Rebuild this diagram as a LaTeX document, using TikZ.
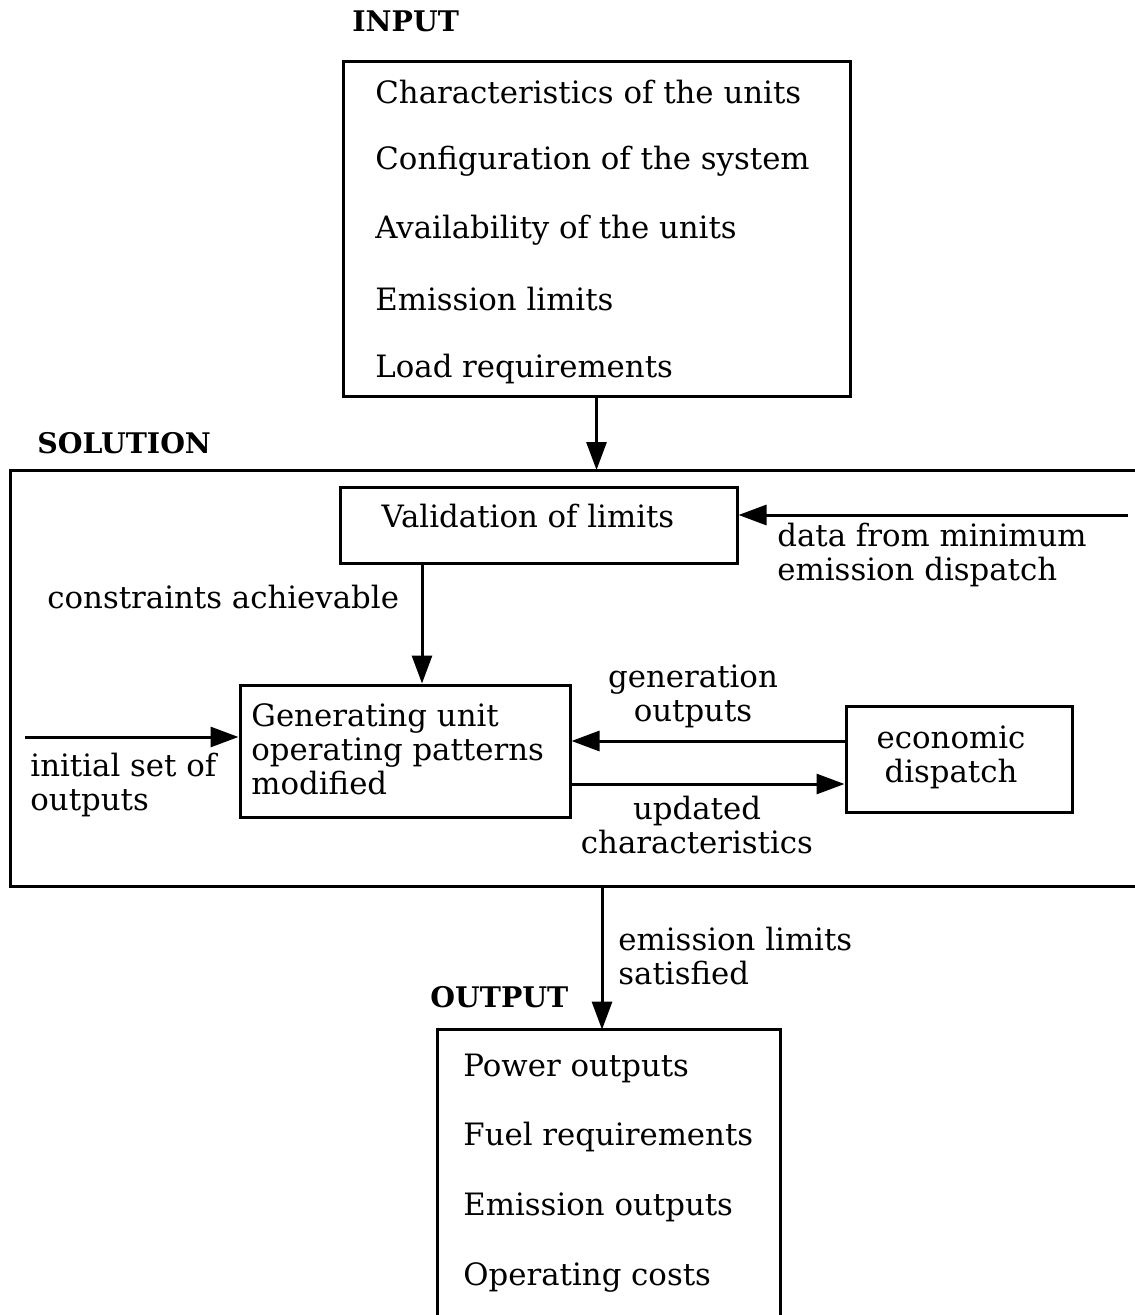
\documentclass[tikz,border=0pt]{standalone}
\usepackage{fontspec}
\setmainfont{DejaVu Serif}
\usetikzlibrary{arrows.meta}
\begin{document}
\begin{tikzpicture}[x=0.5pt,y=-0.5pt,
  every node/.style={inner sep=0pt, font=\fontsize{15.4}{17}\selectfont},
  box/.style={draw, line width=1.5pt},
  lbl/.style={anchor=west, align=left},
  clbl/.style={anchor=center, align=center},
  head/.style={anchor=west, font=\fontsize{14.2}{17}\selectfont\bfseries},
  arr/.style={line width=1.5pt, -{Triangle[length=14pt,width=10pt]}}]
\useasboundingbox (0,0) rectangle (1134,1315);

% INPUT
\node[head] (inputlbl) at (352,21) {INPUT};
\node[box, minimum width=253.5pt, minimum height=167.5pt] (input) at (596.5,229.5) {};
\node[lbl] (i1) at (375,92) {Characteristics of the units};
\node[lbl] (i2) at (375,161) {Configuration of the system};
\node[lbl] (i3) at (375,230) {Availability of the units};
\node[lbl] (i4) at (375,299) {Emission limits};
\node[lbl] (i5) at (375,369) {Load requirements};

% SOLUTION
\node[head] (sollbl) at (37,443) {SOLUTION};
\coordinate (soltop) at (10,470);
\coordinate (solbot) at (602,886);
\draw[line width=1.5pt] (1140,470) -- (soltop) -- (10,886) -- (1140,886);

\node[box, minimum width=198.5pt, minimum height=38pt] (val) at (538.5,525) {};
\node[clbl] (valt) at (528,516) {Validation of limits};

\node[box, minimum width=165pt, minimum height=66pt] (gen) at (405,751) {};
\node[lbl] (gent) at (251,749) {Generating unit\\operating patterns\\modified};

\node[box, minimum width=113pt, minimum height=53pt] (eco) at (959,759) {};
\node[clbl] (ecot) at (951,757) {economic\\dispatch};

% connectors
\draw[arr] (input.south) -- (input.south |- soltop);

\coordinate (dataend) at (1128,515);
\draw[arr] (dataend) -- (val.east |- dataend);
\node[lbl] (datat) at (777,555) {data from minimum\\emission dispatch};

\coordinate (vgx) at (422,600);
\draw[arr] (val.south -| vgx) -- (gen.north -| vgx);
\node[lbl] (cons) at (47,597) {constraints achievable};

\coordinate (initstart) at (25,737);
\draw[arr] (initstart) -- (initstart -| gen.west);
\node[lbl] (initt) at (30,785) {initial set of\\outputs};

\coordinate (genout) at (700,741);
\draw[arr] (eco.west |- genout) -- (gen.east |- genout);
\node[clbl] (genoutt) at (693,696) {generation\\outputs};

\coordinate (upd) at (700,784);
\draw[arr] (gen.east |- upd) -- (eco.west |- upd);
\node[clbl] (updt) at (697,825) {updated\\characteristics};

% OUTPUT
\node[head] (outlbl) at (430,997) {OUTPUT};
\node[minimum width=171pt, minimum height=150pt] (output) at (609,1180) {};
\draw[line width=1.5pt] (output.south west) -- (output.north west) -- (output.north east) -- (output.south east);
\draw[arr] (solbot) -- (solbot |- output.north);
\node[lbl] (emt) at (618,956) {emission limits\\satisfied};

\node[lbl] (o1) at (463,1068) {Power outputs};
\node[lbl] (o2) at (463,1137) {Fuel requirements};
\node[lbl] (o3) at (463,1207) {Emission outputs};
\node[lbl] (o4) at (463,1277) {Operating costs};
\end{tikzpicture}
\end{document}
